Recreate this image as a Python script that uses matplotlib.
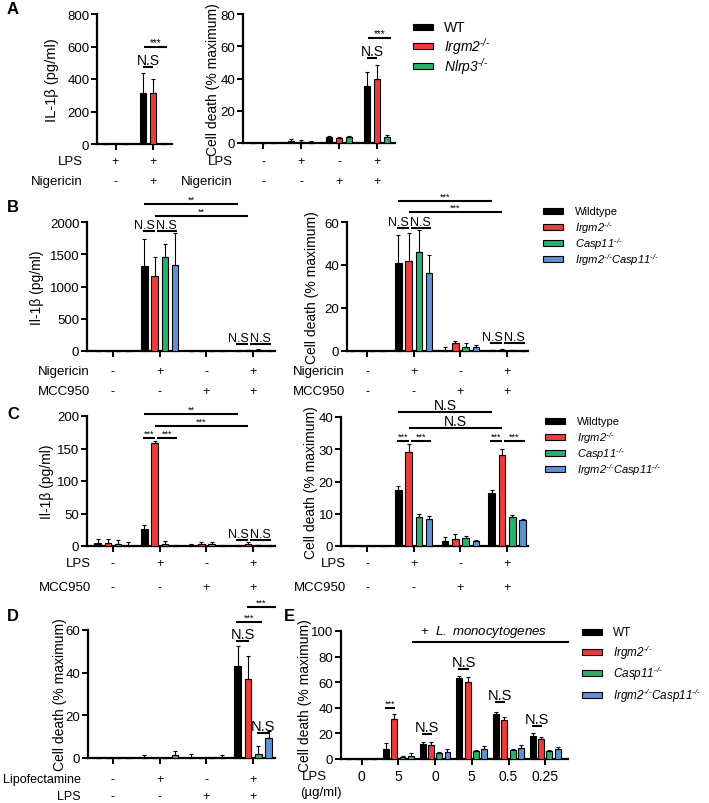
import matplotlib
matplotlib.use('Agg')
import matplotlib.pyplot as plt
import numpy as np
from matplotlib.patches import Rectangle
import matplotlib.transforms as mtransforms

plt.rcParams['font.family'] = ['Liberation Sans', 'DejaVu Sans']
plt.rcParams['mathtext.fontset'] = 'custom'
plt.rcParams['mathtext.it'] = 'Liberation Sans:italic'
plt.rcParams['mathtext.rm'] = 'Liberation Sans:italic'
plt.rcParams['mathtext.bf'] = 'Liberation Sans:bold'

# ---------------- data ----------------
COLORS = ['#000000', '#EE3B3B', '#2BB06C', '#5E92D6']
LBL_WT = 'WT'
LBL_WILD = 'Wildtype'
LBL_IRGM2 = r'$\mathit{Irgm2}^{\text{-/-}}$'
LBL_NLRP3 = r'$\mathit{Nlrp3}^{\text{-/-}}$'
LBL_CASP11 = r'$\mathit{Casp11}^{\text{-/-}}$'
LBL_DKO = r'$\mathit{Irgm2}^{\text{-/-}}\mathit{Casp11}^{\text{-/-}}$'

# Panel A left (IL-1b)
A1_wt = [1, 315];      A1_wt_err = [0, 120]
A1_irgm2 = [2, 315];   A1_irgm2_err = [3, 85]
A1_nlrp3 = [2, 3];     A1_nlrp3_err = [1, 1]
A1_lps = ['+', '+']
A1_nig = ['-', '+']
# Panel A right (cell death)
A2_wt = [0, 1.2, 3.5, 35.5];    A2_wt_err = [0, 1, 1, 8.5]
A2_irgm2 = [0, 0.5, 3, 39.5];   A2_irgm2_err = [0, 1.5, 1, 9]
A2_nlrp3 = [0, 0.3, 3.8, 4];    A2_nlrp3_err = [0, 0.7, 0.5, 1]
A2_lps = ['-', '+', '-', '+']
A2_nig = ['-', '-', '+', '+']

# Panel B left (Il-1b)
B1_wt = [3, 1320, 0, 5];      B1_wt_err = [0, 420, 0, 3]
B1_irgm2 = [0, 1160, 0, 10];  B1_irgm2_err = [0, 300, 0, 5]
B1_casp11 = [0, 1450, 0, 20]; B1_casp11_err = [0, 210, 0, 5]
B1_dko = [0, 1335, 0, 5];     B1_dko_err = [0, 490, 0, 3]
# Panel B right (cell death)
B2_wt = [0, 41, 0.2, 0.3];    B2_wt_err = [0, 13, 1.5, 0.3]
B2_irgm2 = [0, 42, 3.5, 0.6]; B2_irgm2_err = [0, 13, 1, 0.3]
B2_casp11 = [0, 46, 2, 0.3];  B2_casp11_err = [0, 10.5, 1.5, 0.3]
B2_dko = [0, 36.5, 1.8, 0.1]; B2_dko_err = [0, 8, 1, 0.1]
B_nig = ['-', '+', '-', '+']
B_mcc = ['-', '-', '+', '+']

# Panel C left (Il-1b)
C1_wt = [5, 26, 1, 0.5];       C1_wt_err = [6, 6, 2, 1]
C1_irgm2 = [4, 158, 2.5, 3.5]; C1_irgm2_err = [7, 3, 3, 3]
C1_casp11 = [3, 3, 3, 1];      C1_casp11_err = [7, 5, 3, 1]
C1_dko = [0.5, 0.5, 0.5, 0.5]; C1_dko_err = [6, 0.5, 0.5, 0.5]
# Panel C right (cell death)
C2_wt = [0, 17.3, 1.7, 16.3];    C2_wt_err = [0, 1.3, 1, 1.1]
C2_irgm2 = [0, 29.2, 2.1, 28.3]; C2_irgm2_err = [0, 2.3, 1.5, 1.7]
C2_casp11 = [0, 9, 2.4, 9];      C2_casp11_err = [0, 1, 0.8, 0.7]
C2_dko = [0, 8.3, 1.7, 8.2];     C2_dko_err = [0, 1.1, 0.3, 0.3]
C_lps = ['-', '+', '-', '+']
C_mcc = ['-', '-', '+', '+']

# Panel D (cell death)
D_wt = [0, 0.2, 0.2, 43];   D_wt_err = [0, 1, 1.5, 9.5]
D_irgm2 = [0, 0, 0, 37];    D_irgm2_err = [0, 0, 0, 11]
D_casp11 = [0, 0, 0, 2];    D_casp11_err = [0, 0, 0, 3.5]
D_dko = [0, 1.5, 0.2, 9.5]; D_dko_err = [0, 2, 1, 3.2]
D_lipo = ['-', '+', '-', '+']
D_lps = ['-', '-', '+', '+']

# Panel E (cell death)
E_wt = [0, 8, 11.5, 63, 35, 18];        E_wt_err = [0, 4.5, 2, 1.5, 2, 2]
E_irgm2 = [0, 31.5, 11, 60.5, 30.5, 15.5]; E_irgm2_err = [0, 3.5, 2, 3.5, 2.5, 2]
E_casp11 = [0, 1.5, 4.5, 6, 7, 6];      E_casp11_err = [0, 0.5, 1, 1, 1, 1]
E_dko = [0, 2, 5.5, 8, 8.5, 7.5];       E_dko_err = [0, 3, 2.5, 2, 2.5, 2]
E_lps = ['0', '5', '0', '5', '0.5', '0.25']

# ---------------- helpers ----------------
W, H = 709, 804
fig = plt.figure(figsize=(W / 100, H / 100), dpi=100)
FS = 9


def make_ax(x0, g0, sp, xend, ytop, ybot, ylim, yticks):
    xl = ((x0 - g0) / sp, (xend - g0) / sp)
    ax = fig.add_axes([x0 / W, 1 - ybot / H, (xend - x0) / W, (ybot - ytop) / H])
    ax.set_xlim(*xl)
    ax.set_ylim(*ylim)
    ax.set_yticks(yticks)
    ax.set_yticklabels([str(t) for t in yticks], fontsize=FS + 0.5)
    for s in ['top', 'right']:
        ax.spines[s].set_visible(False)
    for s in ['left', 'bottom']:
        ax.spines[s].set_linewidth(1.6)
    ax.tick_params(axis='y', length=4, width=1.4, pad=1.5)
    ax.tick_params(axis='x', length=4, width=1.4, labelbottom=False)
    ax.patch.set_alpha(0)
    return ax


def draw_bars(ax, series, errs, pitch, width):
    n = len(series)
    for k, (vals, ee) in enumerate(zip(series, errs)):
        x = np.arange(len(vals)) + (k - (n - 1) / 2) * pitch
        ax.bar(x, vals, width, color=COLORS[k], edgecolor='black', linewidth=0.8,
               zorder=3, clip_on=False)
        ax.errorbar(x, vals, yerr=[np.zeros(len(vals)), ee], fmt='none', ecolor='black',
                    elinewidth=0.8, capsize=1.6, capthick=0.8, zorder=4, clip_on=False)
    ax.set_xticks(np.arange(len(series[0])))


def sig(ax, xa, xb, y, text, fs=7, tx=None):
    ax.plot([xa, xb], [y, y], color='black', lw=1.5, clip_on=False, solid_capstyle='butt')
    if tx is None:
        tx = (xa + xb) / 2
    ax.text(tx, y, text, ha='center', va='bottom', fontsize=fs, clip_on=False)


def ns_pair(ax, g, y, fs=FS, star=False):
    # two adjacent comparisons inside a group of 4 bars
    t = '***' if star else 'N.S'
    f = 6.5 if star else fs
    sig(ax, g + o4[0] - 0.03, g + o4[1], y, t, fs=f, tx=None if star else g - 0.32)
    sig(ax, g + o4[1] + 0.05, g + o4[3] + 0.05, y, t, fs=f, tx=None if star else g + 0.15)


def ylabel(ax, text, cx, x0, xend, fs=FS + 1):
    ax.set_ylabel(text, fontsize=fs)
    ax.yaxis.set_label_coords((cx + 6 - x0) / (xend - x0), 0.5)


def rows(ax, label_x, items, fs=FS + 0.5):
    tr = mtransforms.blended_transform_factory(ax.transData, fig.transFigure)
    for label, y, syms in items:
        fig.text(label_x / W, 1 - y / H, label, ha='right', va='center', fontsize=fs)
        for i, s in enumerate(syms):
            ax.text(i, 1 - y / H, s, transform=tr, ha='center', va='center', fontsize=FS)


def legend(xp, xt, ys, labels, fs=FS):
    for k, (y, lab) in enumerate(zip(ys, labels)):
        fig.patches.append(Rectangle((xp / W, 1 - (y + 3) / H), 20 / W, 6 / H,
                                     transform=fig.transFigure, facecolor=COLORS[k],
                                     edgecolor='black', linewidth=0.8))
        fig.text(xt / W, 1 - y / H, lab, ha='left', va='center', fontsize=fs)


def panel_letter(x, y, t):
    fig.text(x / W, 1 - y / H, t, fontsize=12, fontweight='bold', ha='left', va='center')


o3 = [-0.26, 0, 0.26]
o4 = [-0.33, -0.11, 0.11, 0.33]
o5 = [-0.34, -0.113, 0.113, 0.34]

# ---------------- Panel A ----------------
panel_letter(7, 10, 'A')
ax = make_ax(97, 115.5, 37.5, 172, 15, 145, (0, 800), [0, 200, 400, 600, 800])
draw_bars(ax, [A1_wt, A1_irgm2, A1_nlrp3], [A1_wt_err, A1_irgm2_err, A1_nlrp3_err], 0.26, 0.17)
ylabel(ax, 'IL-1β (pg/ml)', 53, 97, 172, fs=FS + 1.5)
sig(ax, 1 + o3[0], 1 + o3[1], 474, 'N.S', fs=FS + 1)
sig(ax, 1 + o3[0] + 0.02, 1 + o3[2] + 0.12, 597, '***')
rows(ax, 83, [('LPS', 162, A1_lps), ('Nigericin', 182, A1_nig)])

ax = make_ax(243, 263, 38, 395, 15, 144, (0, 80), [0, 20, 40, 60, 80])
draw_bars(ax, [A2_wt, A2_irgm2, A2_nlrp3], [A2_wt_err, A2_irgm2_err, A2_nlrp3_err], 0.26, 0.17)
ylabel(ax, 'Cell death (% maximum)', 214, 243, 395)
sig(ax, 3 + o3[0], 3 + o3[1], 52.7, 'N.S', fs=FS + 1)
sig(ax, 3 + o3[0] + 0.02, 3 + o3[2] + 0.12, 65, '***')
rows(ax, 233, [('LPS', 162, A2_lps), ('Nigericin', 182, A2_nig)])
legend(413, 444, [28, 47, 67], [LBL_WT, LBL_IRGM2, LBL_NLRP3], fs=FS + 1)

# ---------------- Panel B ----------------
panel_letter(7, 208, 'B')
ax = make_ax(87, 113, 46.7, 275, 223, 352, (0, 2000), [0, 500, 1000, 1500, 2000])
draw_bars(ax, [B1_wt, B1_irgm2, B1_casp11, B1_dko],
          [B1_wt_err, B1_irgm2_err, B1_casp11_err, B1_dko_err], 0.22, 0.14)
ylabel(ax, 'Il-1β (pg/ml)', 38, 87, 275)
ns_pair(ax, 1, 1860)
ns_pair(ax, 3, 110)
sig(ax, 1 + o4[0], 3 + o4[0], 2279, '**', fs=6.5)
sig(ax, 1 + o4[1], 3 + o4[1], 2093, '**', fs=6.5)
rows(ax, 90, [('Nigericin', 372, B_nig), ('MCC950', 392, B_mcc)])

ax = make_ax(347, 367, 46.7, 528, 223, 352, (0, 60), [0, 20, 40, 60])
draw_bars(ax, [B2_wt, B2_irgm2, B2_casp11, B2_dko],
          [B2_wt_err, B2_irgm2_err, B2_casp11_err, B2_dko_err], 0.22, 0.14)
ylabel(ax, 'Cell death (% maximum)', 313, 347, 528)
ns_pair(ax, 1, 57.2)
ns_pair(ax, 3, 3.7)
sig(ax, 1 + o4[0], 3 + o4[0], 69.8, '***', fs=6.5)
sig(ax, 1 + o4[1], 3 + o4[1], 64.7, '***', fs=6.5)
rows(ax, 345, [('Nigericin', 372, B_nig), ('MCC950', 392, B_mcc)])
legend(543, 575, [212, 228, 244, 260], [LBL_WILD, LBL_IRGM2, LBL_CASP11, LBL_DKO], fs=8)

# ---------------- Panel C ----------------
panel_letter(7, 415, 'C')
ax = make_ax(87, 113, 46.7, 275, 417, 547, (0, 200), [0, 50, 100, 150, 200])
draw_bars(ax, [C1_wt, C1_irgm2, C1_casp11, C1_dko],
          [C1_wt_err, C1_irgm2_err, C1_casp11_err, C1_dko_err], 0.22, 0.14)
ylabel(ax, 'Il-1β (pg/ml)', 48, 87, 275)
ns_pair(ax, 1, 166, star=True)
ns_pair(ax, 3, 9)
sig(ax, 1 + o4[0], 3 + o4[0], 203, '**', fs=6.5)
sig(ax, 1 + o4[1], 3 + o4[1], 185, '***', fs=6.5)
rows(ax, 91, [('LPS', 564, C_lps), ('MCC950', 588, C_mcc)])

ax = make_ax(341, 367, 46.7, 528, 418, 547, (0, 40), [0, 10, 20, 30, 40])
draw_bars(ax, [C2_wt, C2_irgm2, C2_casp11, C2_dko],
          [C2_wt_err, C2_irgm2_err, C2_casp11_err, C2_dko_err], 0.22, 0.14)
ylabel(ax, 'Cell death (% maximum)', 312, 341, 528)
ns_pair(ax, 1, 32.5, star=True)
ns_pair(ax, 3, 32.5, star=True)
sig(ax, 1 + o4[0], 3 + o4[0], 41.5, 'N.S', fs=FS + 1)
sig(ax, 1 + o4[1], 3 + o4[1], 36.6, 'N.S', fs=FS + 1)
rows(ax, 346, [('LPS', 564, C_lps), ('MCC950', 588, C_mcc)])
legend(545, 577, [422, 438, 454, 470], [LBL_WILD, LBL_IRGM2, LBL_CASP11, LBL_DKO], fs=8)

# ---------------- Panel D ----------------
panel_letter(7, 617, 'D')
ax = make_ax(88, 113, 46.7, 275, 631, 759, (0, 60), [0, 20, 40, 60])
draw_bars(ax, [D_wt, D_irgm2, D_casp11, D_dko],
          [D_wt_err, D_irgm2_err, D_casp11_err, D_dko_err], 0.22, 0.14)
ylabel(ax, 'Cell death (% maximum)', 61, 88, 275, fs=FS + 1)
sig(ax, 3 + o4[0] - 0.03, 3 + o4[1] + 0.03, 54.8, 'N.S', fs=FS + 1.5)
sig(ax, 3 + o4[2] - 0.03, 3 + o4[3] + 0.03, 11.5, 'N.S', fs=FS + 1.5)
sig(ax, 3 + o4[0] - 0.03, 3 + o4[2] + 0.08, 63.8, '***', fs=6.5)
sig(ax, 3 + o4[1] - 0.03, 3 + o4[3] + 0.15, 70.8, '***', fs=6.5)
rows(ax, 81, [('Lipofectamine', 780, D_lipo), ('LPS', 797, D_lps)], fs=FS)

# ---------------- Panel E ----------------
panel_letter(284, 617, 'E')
ax = make_ax(341, 361.7, 36.7, 568, 632, 760, (0, 100), [0, 20, 40, 60, 80, 100])
draw_bars(ax, [E_wt, E_irgm2, E_casp11, E_dko],
          [E_wt_err, E_irgm2_err, E_casp11_err, E_dko_err], 0.225, 0.16)
ylabel(ax, 'Cell death (% maximum)', 306, 341, 568, fs=FS + 1)
sig(ax, 1 + o5[0] - 0.03, 1 + o5[1] + 0.03, 40, '***', fs=6.5)
for g, y in [(2, 19.5), (3, 70), (4, 44.5), (5, 26)]:
    sig(ax, g + o5[0] - 0.03, g + o5[1] + 0.03, y, 'N.S', fs=FS + 1.5)
ax.plot([1.4, 5.62], [91.5, 91.5], color='black', lw=1.5, clip_on=False)
ax.text(1.6, 94, r'+  $\mathit{L.\ monocytogenes}$', ha='left', va='bottom', fontsize=FS + 0.5,
        clip_on=False)
tr = mtransforms.blended_transform_factory(ax.transData, fig.transFigure)
for i, s in enumerate(E_lps):
    ax.text(i, 1 - 777 / H, s, transform=tr, ha='center', va='center', fontsize=FS + 1)
fig.text(327 / W, 1 - 777 / H, 'LPS', ha='right', va='center', fontsize=FS + 0.5)
fig.text(300 / W, 1 - 793 / H, '(µg/ml)', ha='left', va='center', fontsize=FS + 0.5)
legend(582, 613, [633, 653, 674, 696], [LBL_WT, LBL_IRGM2, LBL_CASP11, LBL_DKO], fs=8.5)

fig.savefig('out.png', dpi=100)
